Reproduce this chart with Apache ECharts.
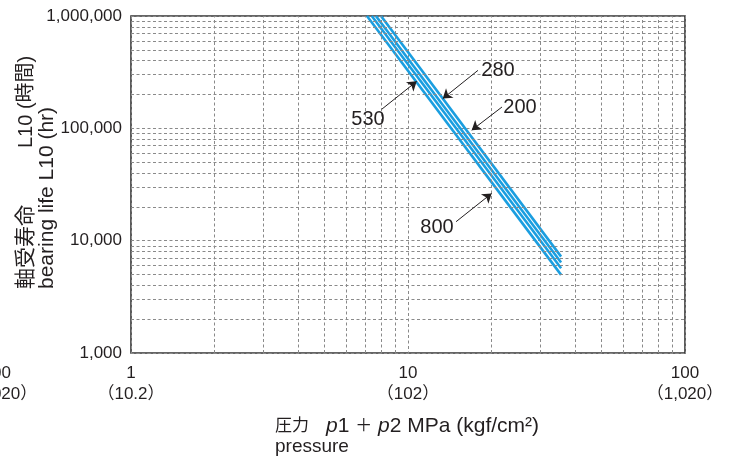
<!DOCTYPE html>
<html>
<head>
<meta charset="utf-8">
<script src="https://cdn.jsdelivr.net/npm/echarts@6/dist/echarts.min.js"></script>
<style>
html,body{margin:0;padding:0;background:#fff;}
#chart{width:729px;height:461px;}
</style>
</head>
<body>
<div id="chart"></div>
<script>
// ---- data ----
const xTicks = [1, 10, 100];
const xTickKgf = ['（10.2）', '（102）', '（1,020）'];
const yTicks = [1000, 10000, 100000, 1000000];
const yTickLabels = ['1,000', '10,000', '100,000', '1,000,000'];
const xMinorGrid = [2, 3, 4, 5, 6, 7, 8, 9, 20, 30, 40, 50, 60, 70, 80, 90];
const yMinorGrid = [2000, 3000, 4000, 5000, 6000, 7000, 8000, 9000,
  20000, 30000, 40000, 50000, 60000, 70000, 80000, 90000,
  200000, 300000, 400000, 500000, 600000, 700000, 800000, 900000];

const line1 = [[7.11, 1000000], [35.7, 4960]];
const line2 = [[7.40, 1000000], [35.7, 5690]];
const line3 = [[7.66, 1000000], [35.7, 6380]];
const line4 = [[7.99, 1000000], [35.7, 7210]];

const annoLabels = ['530', '280', '200', '800'];
const annoTextAt = [[7.17, 120400], [21.13, 328100], [25.37, 153900], [12.73, 13230]];
const annoFrom = [[8.04, 147900], [17.89, 328100], [21.85, 154900], [14.91, 14750]];
const annoTo = [[10.75, 261900], [13.35, 183900], [16.98, 96200], [20.05, 26360]];

// ---- chart ----
const FONT = "'Liberation Sans', Arial, 'Noto Sans CJK JP', sans-serif";
const TXT = '#231f20';
const BLUE = '#1a9ee0';
const GRIDC = '#8a8a8a';
const chart = echarts.init(document.getElementById('chart'), null, {renderer: 'canvas'});

function idxOf(v) { return Math.round(Math.log10(v)); }

const blueSeries = [line1, line2, line3, line4].map((d, i) => ({
  name: 'L' + i, type: 'line', data: d, symbol: 'none', z: 3,
  lineStyle: {color: BLUE, width: 2.6}, animation: false, silent: true
}));

const option = {
  animation: false,
  grid: {left: 131, right: 44, top: 16, bottom: 108, show: true,
    borderColor: '#333', borderWidth: 1.6, backgroundColor: 'transparent'},
  xAxis: {
    type: 'log', min: 1, max: 100, logBase: 10,
    axisLine: {show: false}, axisTick: {show: false},
    axisLabel: {
      margin: 10, fontSize: 17, lineHeight: 21, color: TXT, fontFamily: FONT,
      formatter: function (v) {
        const i = xTicks.indexOf(Math.pow(10, idxOf(v)));
        return i >= 0 ? xTicks[i] + '\n' + xTickKgf[i] : '';
      }
    },
    splitLine: {show: true, lineStyle: {color: GRIDC, type: [3, 2.5], width: 1}}
  },
  yAxis: {
    type: 'log', min: 1000, max: 1000000, logBase: 10,
    axisLine: {show: false}, axisTick: {show: false},
    axisLabel: {
      margin: 9, fontSize: 17, color: TXT, fontFamily: FONT,
      formatter: function (v) {
        const i = yTicks.indexOf(Math.pow(10, idxOf(v)));
        return i >= 0 ? yTickLabels[i] : '';
      }
    },
    splitLine: {show: true, lineStyle: {color: GRIDC, type: [3, 2.5], width: 1}}
  },
  series: [
    {
      name: 'minorGrid', type: 'line', data: [], silent: true, z: 1,
      markLine: {
        silent: true, symbol: 'none', animation: false, label: {show: false},
        lineStyle: {color: GRIDC, type: [3, 2.5], width: 1},
        data: xMinorGrid.map(v => ({xAxis: v})).concat(yMinorGrid.map(v => ({yAxis: v})))
      }
    },
    ...blueSeries,
    {
      name: 'anno', type: 'line', data: [], silent: true, z: 5,
      markLine: {
        silent: true, animation: false, symbol: ['none', 'arrow'], symbolSize: 9,
        label: {show: false},
        lineStyle: {color: TXT, width: 1, type: 'solid'},
        data: annoFrom.map((f, i) => [{coord: f}, {coord: annoTo[i]}])
      },
      markPoint: {
        silent: true, animation: false, symbol: 'rect', symbolSize: 1,
        itemStyle: {color: 'rgba(0,0,0,0)'},
        label: {show: true, position: 'inside', fontSize: 20, color: TXT, fontFamily: FONT,
          formatter: p => p.name},
        data: annoTextAt.map((c, i) => ({coord: c, name: annoLabels[i]}))
      }
    }
  ],
  graphic: [
    // cut-off label from neighbouring panel
    {type: 'text', x: 11, y: 373, silent: true, style: {text: '100', font: '17px ' + FONT, fill: TXT, align: 'right', verticalAlign: 'middle'}},
    {type: 'text', x: -1, y: 394, silent: true, style: {text: '（1,020）', font: '17px ' + FONT, fill: TXT, align: 'center', verticalAlign: 'middle'}},
    // y-axis title
    {type: 'text', x: 26, y: 289, rotation: Math.PI / 2, silent: true,
      style: {text: '軸受寿命', font: '21px ' + FONT, fill: TXT, align: 'left', verticalAlign: 'middle'}},
    {type: 'text', x: 26, y: 148, rotation: Math.PI / 2, silent: true,
      style: {text: 'L10 (時間)', font: '20px ' + FONT, fill: TXT, align: 'left', verticalAlign: 'middle'}},
    {type: 'text', x: 47, y: 289, rotation: Math.PI / 2, silent: true,
      style: {text: 'bearing life L10 (hr)', font: '21px ' + FONT, fill: TXT, align: 'left', verticalAlign: 'middle'}},
    // x-axis title
    {type: 'text', x: 275, y: 426, silent: true,
      style: {
        text: '{c|圧力　}{i|p}{n|1 }{c|＋}{n| }{i|p}{n|2 MPa (kgf/cm²)}',
        fill: TXT, align: 'left', verticalAlign: 'middle',
        rich: {
          c: {fontSize: 17, fontFamily: FONT, fill: TXT},
          i: {fontSize: 21, fontFamily: FONT, fontStyle: 'italic', fill: TXT},
          n: {fontSize: 21, fontFamily: FONT, fill: TXT}
        }
      }},
    {type: 'text', x: 275, y: 447, silent: true,
      style: {text: 'pressure', font: '19px ' + FONT, fill: TXT, align: 'left', verticalAlign: 'middle'}}
  ]
};
chart.setOption(option);
</script>
</body>
</html>
